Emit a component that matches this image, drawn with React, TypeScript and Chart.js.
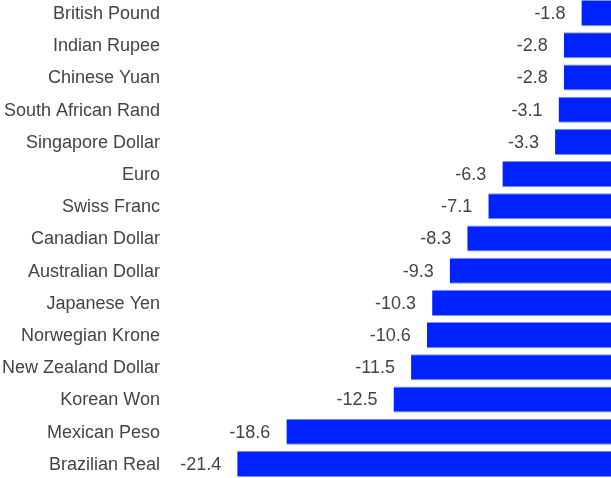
import React, { useEffect, useRef } from "react";
import { Chart, registerables } from "chart.js";

Chart.register(...registerables);

const categories = [
  "British Pound",
  "Indian Rupee",
  "Chinese Yuan",
  "South African Rand",
  "Singapore Dollar",
  "Euro",
  "Swiss Franc",
  "Canadian Dollar",
  "Australian Dollar",
  "Japanese Yen",
  "Norwegian Krone",
  "New Zealand Dollar",
  "Korean Won",
  "Mexican Peso",
  "Brazilian Real",
];

const values = [-1.8, -2.8, -2.8, -3.1, -3.3, -6.3, -7.1, -8.3, -9.3, -10.3, -10.6, -11.5, -12.5, -18.6, -21.4];

const FONT = "'Liberation Sans', Arial, sans-serif";
const TEXT = "#444444";

const textLabels = {
  id: "textLabels",
  afterDatasetsDraw(chart: any) {
    const ctx = chart.ctx;
    const meta = chart.getDatasetMeta(0);
    ctx.save();
    ctx.font = `18px ${FONT}`;
    ctx.fillStyle = TEXT;
    ctx.textAlign = "right";
    ctx.textBaseline = "middle";
    meta.data.forEach((bar: any, i: number) => {
      const v = chart.data.datasets[0].data[i];
      ctx.fillText(v.toFixed(1), bar.x - 16, bar.y + 1);
      ctx.fillText(String(chart.data.labels[i]), 160, bar.y + 1);
    });
    ctx.restore();
  },
};

export default function App() {
  const ref = useRef<HTMLCanvasElement>(null);
  useEffect(() => {
    document.body.style.margin = "0";
    const chart = new Chart(ref.current!, {
      type: "bar",
      data: {
        labels: categories,
        datasets: [
          {
            data: values,
            backgroundColor: "#0022ff",
            borderColor: "#7f90ff",
            borderWidth: { top: 1, bottom: 1, left: 0, right: 0 } as any,
            barPercentage: 0.81,
            categoryPercentage: 1,
          },
        ],
      },
      options: {
        indexAxis: "y",
        animation: false,
        responsive: false,
        layout: { padding: { left: 174, right: 0, top: 0, bottom: 0 } },
        plugins: { legend: { display: false }, tooltip: { enabled: false } },
        scales: {
          x: {
            min: -25,
            max: 0,
            display: false,
          },
          y: {
            display: false,
          },
        },
      },
      plugins: [textLabels],
    });
    return () => chart.destroy();
  }, []);
  return (
    <div style={{ position: "relative", width: 611, height: 478, overflow: "hidden" }}>
      <canvas
        ref={ref}
        width={613}
        height={483}
        style={{ position: "absolute", left: 0, top: -3, width: 613, height: 483 }}
      />
    </div>
  );
}
